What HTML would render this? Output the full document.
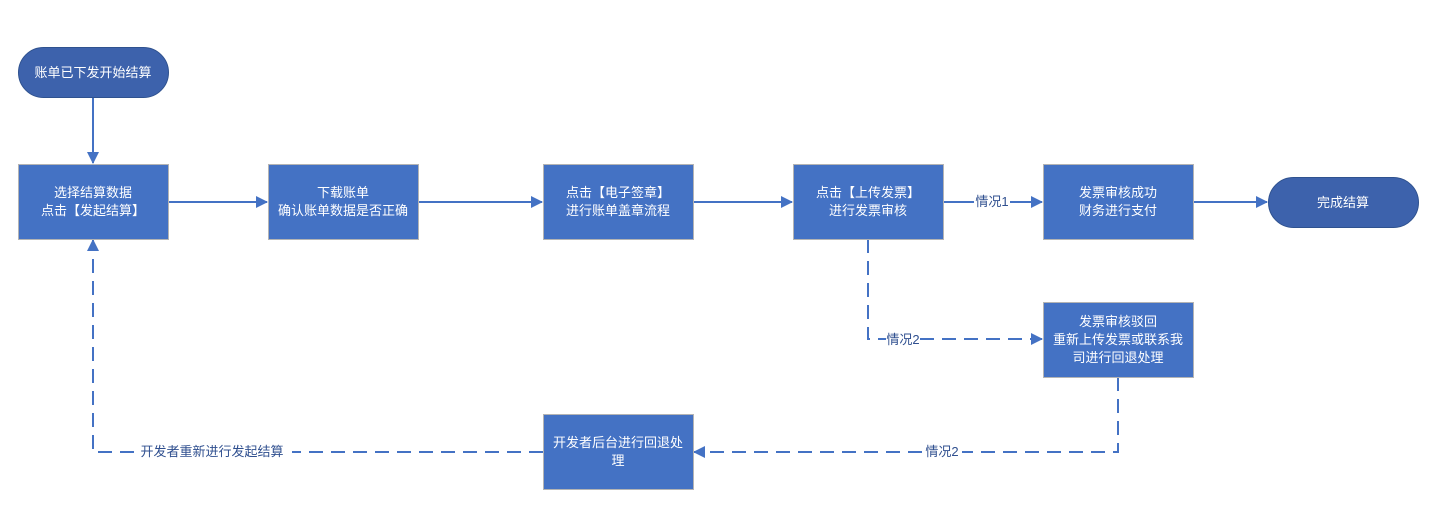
<!DOCTYPE html>
<html><head><meta charset="utf-8"><style>
html,body{margin:0;padding:0;background:#fff;width:1436px;height:514px;overflow:hidden}
svg text{font-family:"Liberation Sans","Noto Sans CJK SC",sans-serif;font-size:13px}
</style></head><body>
<svg width="1436" height="514" xmlns="http://www.w3.org/2000/svg">
<defs>
<marker id="a" markerWidth="12" markerHeight="12" refX="11" refY="6" orient="auto" markerUnits="userSpaceOnUse"><path d="M0,0 L12,6 L0,12 Z" fill="#4472C4"/></marker>
</defs>
<g stroke="#4472C4" stroke-width="2" fill="none">
<line x1="93" y1="97" x2="93" y2="163" marker-end="url(#a)"/>
<line x1="168" y1="202" x2="267" y2="202" marker-end="url(#a)"/>
<line x1="418" y1="202" x2="542" y2="202" marker-end="url(#a)"/>
<line x1="693" y1="202" x2="792" y2="202" marker-end="url(#a)"/>
<line x1="943" y1="202" x2="974" y2="202"/>
<line x1="1010" y1="202" x2="1042" y2="202" marker-end="url(#a)"/>
<line x1="1193" y1="202" x2="1267" y2="202" marker-end="url(#a)"/>
<g stroke-dasharray="14,8">
<polyline points="868,239 868,339 886,339"/>
<line x1="920" y1="339" x2="1042" y2="339" marker-end="url(#a)"/>
<polyline points="1118,377 1118,452 962,452"/>
<line x1="922" y1="452" x2="694" y2="452" marker-end="url(#a)"/>
<line x1="543" y1="452" x2="292" y2="452"/>
<polyline points="134,452 93,452 93,240" marker-end="url(#a)"/>
</g>
</g>
<g fill="#4472C4" stroke="#B4B4B4" stroke-width="1">
<rect x="18.5" y="164.5" width="150" height="75"/>
<rect x="268.5" y="164.5" width="150" height="75"/>
<rect x="543.5" y="164.5" width="150" height="75"/>
<rect x="793.5" y="164.5" width="150" height="75"/>
<rect x="1043.5" y="164.5" width="150" height="75"/>
<rect x="1043.5" y="302.5" width="150" height="75"/>
<rect x="543.5" y="414.5" width="150" height="75"/>
</g>
<rect x="18.5" y="47.5" width="150" height="50" rx="25" fill="#3D62AC" stroke="#2F528F"/>
<rect x="1268.5" y="177.5" width="150" height="50" rx="25" fill="#3D62AC" stroke="#2F528F"/>
<g fill="#fff" text-anchor="middle">
<text x="93" y="77">账单已下发开始结算</text>
<text x="93" y="197">选择结算数据</text><text x="93" y="215">点击【发起结算】</text>
<text x="343" y="197">下载账单</text><text x="343" y="215">确认账单数据是否正确</text>
<text x="618" y="197">点击【电子签章】</text><text x="618" y="215">进行账单盖章流程</text>
<text x="868" y="197">点击【上传发票】</text><text x="868" y="215">进行发票审核</text>
<text x="1118" y="197">发票审核成功</text><text x="1118" y="215">财务进行支付</text>
<text x="1343" y="207">完成结算</text>
<text x="1118" y="326">发票审核驳回</text><text x="1118" y="344">重新上传发票或联系我</text><text x="1118" y="362">司进行回退处理</text>
<text x="618" y="447">开发者后台进行回退处</text><text x="618" y="465">理</text>
</g>
<g fill="#2F4F8F" text-anchor="middle">
<text x="992" y="206">情况1</text>
<text x="903" y="344">情况2</text>
<text x="942" y="456">情况2</text>
<text x="212" y="456">开发者重新进行发起结算</text>
</g>
</svg>
</body></html>
